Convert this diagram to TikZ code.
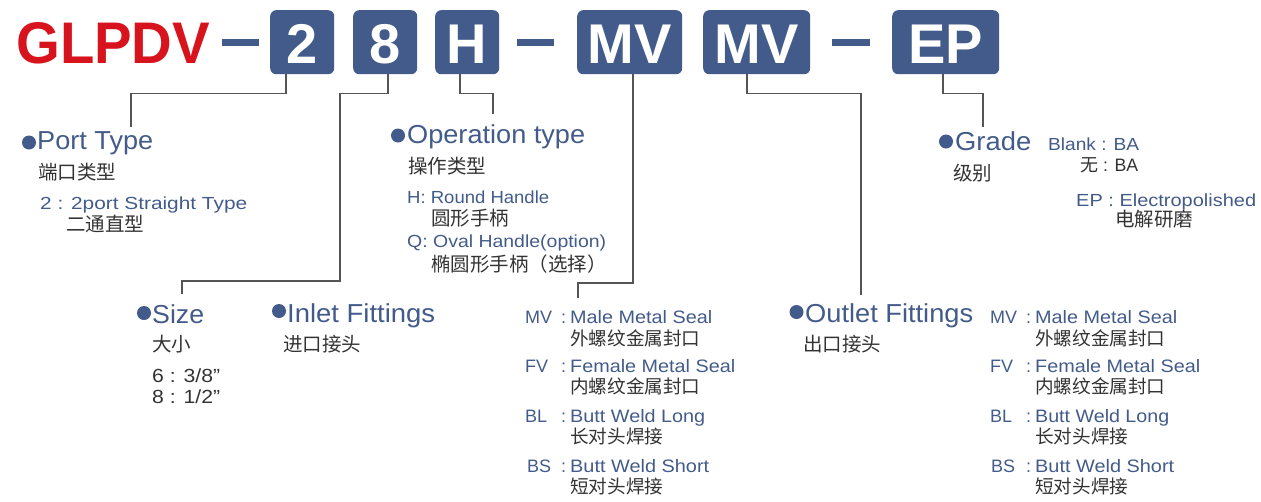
\documentclass[tikz,border=0pt]{standalone}
\usepackage{fontspec}
\usepackage{graphicx}
\setmainfont{Liberation Sans}
\newfontfamily\cjk{Noto Sans CJK SC}
\definecolor{bl}{HTML}{435B8A}
\definecolor{rd}{HTML}{D7141E}
\definecolor{tx}{HTML}{333333}
\definecolor{ln}{HTML}{555555}
\newcommand\fw[2]{\resizebox{#1pt}{\height}{#2}}
\tikzset{
  codebox/.style={fill=bl, rounded corners=6pt, text=white, font=\bfseries\fontsize{56}{56}\selectfont,
    minimum height=64pt, text height=42pt, text depth=0pt, inner ysep=11pt, inner xsep=0pt, anchor=north west},
  hd/.style={text=bl, font=\fontsize{26}{26}\selectfont, anchor=base west, inner sep=0pt},
  sm/.style={text=bl, font=\fontsize{17.5}{17.5}\selectfont, anchor=base west, inner sep=0pt},
  li/.style={text=bl, font=\fontsize{18}{18}\selectfont, anchor=base west, inner sep=0pt},
  dk/.style={text=tx, font=\fontsize{19}{19}\selectfont, anchor=base west, inner sep=0pt},
  cn/.style={text=tx, font=\cjk\fontsize{19.5}{19.5}\selectfont, anchor=base west, inner sep=0pt},
  cnl/.style={text=tx, font=\cjk\fontsize{18.6}{18.6}\selectfont, anchor=base west, inner sep=0pt},
  conn/.style={draw=ln, line width=1.5pt},
  bdot/.style={circle, fill=bl, inner sep=0pt, minimum size=14pt}
}
\begin{document}
\begin{tikzpicture}[x=1pt,y=-1pt]
\useasboundingbox (0,0) rectangle (1261,501);
% header
\node[anchor=base west, inner sep=0pt, text=rd, font=\bfseries\fontsize{58.7}{58.7}\selectfont] (title) at (16,63) {\fw{194}{GLPDV}};
\fill[bl] (222,38.5) rectangle (259,45.5);
\node[codebox, minimum width=64pt] (b2) at (270,10) {2};
\node[codebox, minimum width=64pt] (b8) at (353,10) {8};
\node[codebox, minimum width=64pt] (bH) at (435,10) {H};
\fill[bl] (517,38.5) rectangle (554,45.5);
\node[codebox, minimum width=105pt] (bm1) at (577,10) {MV};
\node[codebox, minimum width=107pt] (bm2) at (703,10) {MV};
\fill[bl] (832,38.5) rectangle (870,45.5);
\node[codebox, minimum width=107pt] (bep) at (892,10) {EP};
% connector ends
\coordinate (e1) at (131,127);
\coordinate (k2) at (340,281);
\coordinate (e2) at (182,294);
\coordinate (e3) at (493,114);
\coordinate (k4) at (578,283);
\coordinate (e4) at (578,298);
\coordinate (e5) at (861,295);
\coordinate (e6) at (983,127);
\draw[conn] ([xshift=-16pt]b2.south) -- ++(0,19) -| (e1);
\draw[conn] ([xshift=3pt]b8.south) -- ++(0,19) -| (k2) -| (e2);
\draw[conn] ([xshift=-7pt]bH.south) -- ++(0,19) -| (e3);
\draw[conn] ([xshift=3.5pt]bm1.south) |- (k4) -- (e4);
\draw[conn] ([xshift=-9.5pt]bm2.south) -- ++(0,19) -| (e5);
\draw[conn] ([xshift=-2.5pt]bep.south) -- ++(0,19) -| (e6);
% Port type
\node[bdot] (d1) at (29,142.5) {};
\node[hd] (pt) at (37,149) {\fw{116}{Port Type}};
\node[cn] (ptc) at (38,179) {端口类型};
\node[sm] (pt2) at (40,209) {\fw{207}{2 : 2port Straight Type}};
\node[cn] (pt2c) at (66,231.5) {二通直型};
% Operation type
\node[bdot] (d2) at (398,135.5) {};
\node[hd] (op) at (407,143) {\fw{178}{Operation type}};
\node[cn] (opc) at (408,173.5) {操作类型};
\node[sm] (oph) at (407,203) {\fw{142}{H: Round Handle}};
\node[cn] (ophc) at (431,225.5) {圆形手柄};
\node[sm] (opq) at (407,247) {\fw{199}{Q: Oval Handle(option)}};
\node[cn] (opqc) at (431,271.5) {椭圆形手柄（选择）};
% Grade
\node[bdot] (d3) at (946,141.5) {};
\node[hd] (gr) at (955,150) {\fw{76}{Grade}};
\node[cn] (grc) at (953,180.5) {级别};
\node[sm] (grb) at (1048,150) {\fw{91}{Blank : BA}};
\node[dk, font=\fontsize{18}{18}\selectfont] (grw) at (1080,171.5) {{\cjk 无}\fw{40}{ : BA}};
\node[sm] (gre) at (1076,206) {\fw{180}{EP : Electropolished}};
\node[cn] (grec) at (1115,226.5) {电解研磨};
% Size
\node[bdot] (d4) at (144,313) {};
\node[hd] (sz) at (152,323) {\fw{52}{Size}};
\node[cn] (szc) at (152,351.5) {大小};
\node[dk] (sz6) at (152,382) {\fw{68}{6 : 3/8”}};
\node[dk] (sz8) at (152,403) {\fw{68}{8 : 1/2”}};
% Inlet
\node[bdot] (d5) at (279,311) {};
\node[hd] (in) at (287,322) {\fw{148}{Inlet Fittings}};
\node[cn] (inc) at (283,351.5) {进口接头};
% Outlet
\node[bdot] (d6) at (796.5,312) {};
\node[hd] (out) at (805,322) {\fw{168}{Outlet Fittings}};
\node[cn] (outc) at (803,351.5) {出口接头};
% middle list
\node[li] (m1k) at (525,323) {MV};
\node[li] (m1s) at (561,323) {:};
\node[li] (m1) at (570,323) {\fw{142}{Male Metal Seal}};
\node[cnl] (m1c) at (570,345.5) {外螺纹金属封口};
\node[li] (m2k) at (525,372) {FV};
\node[li] (m2s) at (561,372) {:};
\node[li] (m2) at (570,372) {\fw{165}{Female Metal Seal}};
\node[cnl] (m2c) at (570,393.5) {内螺纹金属封口};
\node[li] (m3k) at (525,422) {BL};
\node[li] (m3s) at (561,422) {:};
\node[li] (m3) at (570,422) {\fw{135}{Butt Weld Long}};
\node[cnl] (m3c) at (570,443.5) {长对头焊接};
\node[li] (m4k) at (527,472) {BS};
\node[li] (m4s) at (561,472) {:};
\node[li] (m4) at (570,472) {\fw{139}{Butt Weld Short}};
\node[cnl] (m4c) at (570,493.5) {短对头焊接};
% right list
\node[li] (r1k) at (990,323) {MV};
\node[li] (r1s) at (1026,323) {:};
\node[li] (r1) at (1035,323) {\fw{142}{Male Metal Seal}};
\node[cnl] (r1c) at (1035,345.5) {外螺纹金属封口};
\node[li] (r2k) at (990,372) {FV};
\node[li] (r2s) at (1026,372) {:};
\node[li] (r2) at (1035,372) {\fw{165}{Female Metal Seal}};
\node[cnl] (r2c) at (1035,393.5) {内螺纹金属封口};
\node[li] (r3k) at (990,422) {BL};
\node[li] (r3s) at (1026,422) {:};
\node[li] (r3) at (1035,422) {\fw{134}{Butt Weld Long}};
\node[cnl] (r3c) at (1035,443.5) {长对头焊接};
\node[li] (r4k) at (991,472) {BS};
\node[li] (r4s) at (1026,472) {:};
\node[li] (r4) at (1035,472) {\fw{139}{Butt Weld Short}};
\node[cnl] (r4c) at (1035,493.5) {短对头焊接};
\end{tikzpicture}
\end{document}
